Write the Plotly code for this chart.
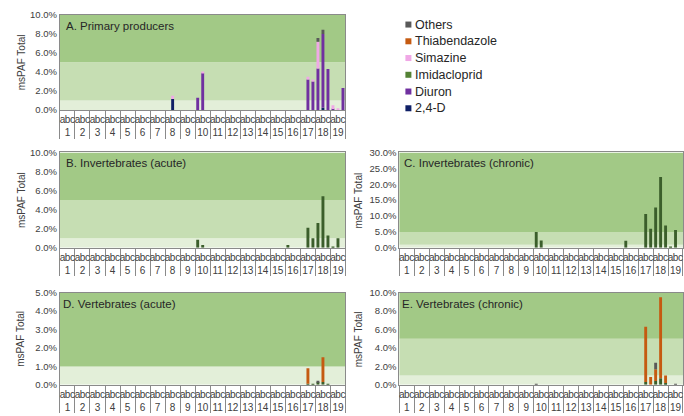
import plotly.graph_objects as go

W, H = 684, 416

# ---------------- data ----------------
SITES = ["1", "2", "3", "4", "5", "6", "7", "8", "9", "10",
         "11", "12", "13", "14", "15", "16", "17", "18", "19"]
SUBSAMPLES = ["a", "b", "c"]

# stacking order (bottom -> top)
SERIES = ["2,4-D", "Diuron", "Imidacloprid", "Simazine", "Thiabendazole", "Others"]
COLORS = ["#0f1f66", "#7030a0", "#3b5e2b", "#f0a8e6", "#c55a11", "#595959"]
LEGEND_ORDER = ["Others", "Thiabendazole", "Simazine", "Imidacloprid", "Diuron", "2,4-D"]
LEGEND_COLORS = ["#595959", "#c55a11", "#f0a8e6", "#548235", "#7030a0", "#0f1f66"]

# msPAF (%) per sample (site + subsample); missing samples are 0
A_24D = {"8b": 1.15, "18b": 0.25}
A_DIURON = {"10a": 1.3, "10b": 3.9, "17b": 3.2, "17c": 3.0, "18a": 4.35,
            "18b": 7.7, "18c": 4.3, "19a": 0.1, "19c": 2.3}
A_SIMAZINE = {"8b": 0.35, "10b": 0.1, "17b": 0.3, "17c": 0.15, "18a": 2.8,
              "19a": 0.4, "19b": 0.2}
A_OTHERS = {"18a": 0.4, "18b": 0.45}

B_IMID = {"10a": 0.85, "10b": 0.3, "16a": 0.3, "17b": 2.1, "17c": 1.0,
          "18a": 2.6, "18b": 5.4, "18c": 1.3, "19a": 0.05, "19b": 1.0}

C_IMID = {"10a": 5.0, "10b": 2.3, "16a": 2.2, "17b": 10.6, "17c": 6.0,
          "18a": 12.7, "18b": 22.3, "18c": 7.0, "19a": 0.4, "19b": 5.6}

D_IMID = {"17b": 0.05, "17c": 0.05, "18a": 0.15, "18b": 0.15, "18c": 0.05}
D_THIA = {"17b": 0.85, "18b": 1.35}
D_OTHERS = {"18a": 0.05}

E_IMID = {"17b": 0.3, "18a": 0.4, "18b": 0.7, "18c": 0.2}
E_THIA = {"17b": 6.0, "17c": 0.85, "18a": 1.3, "18b": 8.8, "18c": 0.8}
E_OTHERS = {"10a": 0.05, "18a": 0.7, "19b": 0.1}

PANEL_TITLES = ["A. Primary producers", "B. Invertebrates (acute)",
                "C. Invertebrates (chronic)", "D. Vertebrates (acute)",
                "E. Vertebrates (chronic)"]
PANEL_DATA = [
    {"2,4-D": A_24D, "Diuron": A_DIURON, "Simazine": A_SIMAZINE, "Others": A_OTHERS},
    {"Imidacloprid": B_IMID},
    {"Imidacloprid": C_IMID},
    {"Imidacloprid": D_IMID, "Thiabendazole": D_THIA, "Others": D_OTHERS},
    {"Imidacloprid": E_IMID, "Thiabendazole": E_THIA, "Others": E_OTHERS},
]
Y_MAX = [10, 10, 30, 5, 10]
Y_DTICK = [2, 2, 5, 1, 2]
# risk band limits (%) per panel
BAND_EDGES = [[1, 5], [1, 5], [1, 5], [1], [1, 5]]
Y_LABEL = "msPAF Total"

# ---------------- layout geometry (target pixels in the photographed page) ----------------
BOXES = [(60, 346, 14, 109.3), (60, 346, 151.5, 246.7), (400, 684, 151.5, 246.7),
         (60, 346, 291.5, 383.3), (400, 684, 291.5, 383.3)]
YLABEL_X = [21, 21, 359, 21, 359]
TITLE_X = [64, 64, 403, 61, 401]
BAND_LIGHT, BAND_MID, BAND_DARK = "#e3efd9", "#c6deb3", "#a2c986"
FONT = "Liberation Sans, Arial, sans-serif"

# the photographed page shows the figure slightly squeezed vertically; compensate
SQ_SCALE, SQ_OFFSET = 0.971, 5.5


def fy(t):
    """paper fraction for a target pixel row t (from top)."""
    return 1 - ((t - SQ_OFFSET) / SQ_SCALE) / H


keys = [s + c for s in SITES for c in SUBSAMPLES]
outer = [s for s in SITES for c in SUBSAMPLES]
inner = [c for s in SITES for c in SUBSAMPLES]

fig = go.Figure()
shapes, annotations = [], []

for i, (title, pdata, ymax, dt, box) in enumerate(zip(PANEL_TITLES, PANEL_DATA, Y_MAX, Y_DTICK, BOXES)):
    n = i + 1
    xa = "x" if n == 1 else f"x{n}"
    ya = "y" if n == 1 else f"y{n}"
    for name, col in zip(SERIES, COLORS):
        if name not in pdata:
            continue
        vals = [pdata[name].get(k, 0) for k in keys]
        fig.add_trace(go.Bar(x=[outer, inner], y=vals, name=name, marker_color=col,
                             marker_line_width=0, xaxis=xa, yaxis=ya, showlegend=False))
    l, r, t, b = box
    fig.layout[f"xaxis{'' if n == 1 else n}"] = dict(
        domain=[l / W, r / W], anchor=ya, type="multicategory",
        showline=True, mirror=True, linecolor="#8a8a8a", linewidth=1,
        ticks="", tickangle=0, tickmode="linear", tick0=0, dtick=1,
        tickfont=dict(size=10, color="#404040", family=FONT),
        showdividers=True, dividercolor="#8a8a8a", dividerwidth=1,
        showgrid=False, fixedrange=True)
    fig.layout[f"yaxis{'' if n == 1 else n}"] = dict(
        domain=[fy(b), fy(t)], anchor=xa, range=[0, ymax], dtick=dt,
        tickformat=".1f", ticksuffix="%", showline=True, mirror=True,
        linecolor="#8a8a8a", linewidth=1, showgrid=False, zeroline=False,
        ticks="", tickfont=dict(size=9.5, color="#404040", family=FONT), fixedrange=True)
    edges = [0] + BAND_EDGES[i] + [ymax]
    cols = [BAND_LIGHT, BAND_MID, BAND_DARK] if len(BAND_EDGES[i]) == 2 else [BAND_LIGHT, BAND_DARK]
    for j in range(len(edges) - 1):
        shapes.append(dict(type="rect", xref=f"{xa} domain", yref=ya, x0=0, x1=1,
                           y0=edges[j], y1=edges[j + 1], fillcolor=cols[j], line_width=0,
                           layer="below"))
    annotations.append(dict(text=title, xref="paper", yref="paper", x=TITLE_X[i] / W,
                            y=fy(t + 11), xanchor="left", yanchor="middle", showarrow=False,
                            font=dict(size=11.5, color="#262626", family=FONT)))
    annotations.append(dict(text=Y_LABEL, xref="paper", yref="paper", x=YLABEL_X[i] / W,
                            y=fy((t + b) / 2), xanchor="center", yanchor="middle",
                            textangle=-90, showarrow=False,
                            font=dict(size=10, color="#404040", family=FONT)))

# legend (manual, matches reference spacing)
for k, (name, col) in enumerate(zip(LEGEND_ORDER, LEGEND_COLORS)):
    yc = 24 + k * 16.7
    shapes.append(dict(type="rect", xref="paper", yref="paper",
                       x0=406 / W, x1=412 / W, y0=fy(yc + 3), y1=fy(yc - 3),
                       fillcolor=col, line_width=0))
    annotations.append(dict(text=name, xref="paper", yref="paper", x=414 / W, y=fy(yc),
                            xanchor="left", yanchor="middle", showarrow=False,
                            font=dict(size=12.5, color="#262626", family=FONT)))

fig.update_layout(width=W, height=H, margin=dict(l=0, r=0, t=0, b=0),
                  paper_bgcolor="white", plot_bgcolor="white", barmode="relative",
                  bargap=0.42, shapes=shapes, annotations=annotations, showlegend=False,
                  font=dict(family=FONT))

PAGE_CSS = ("var s=document.documentElement.style, b=document.body.style;"
            "s.margin='0';s.padding='0';s.overflow='hidden';"
            "b.margin='0';b.padding='0';b.overflow='hidden';")
fig.write_html("out.html", config={"displayModeBar": False}, post_script=PAGE_CSS)
